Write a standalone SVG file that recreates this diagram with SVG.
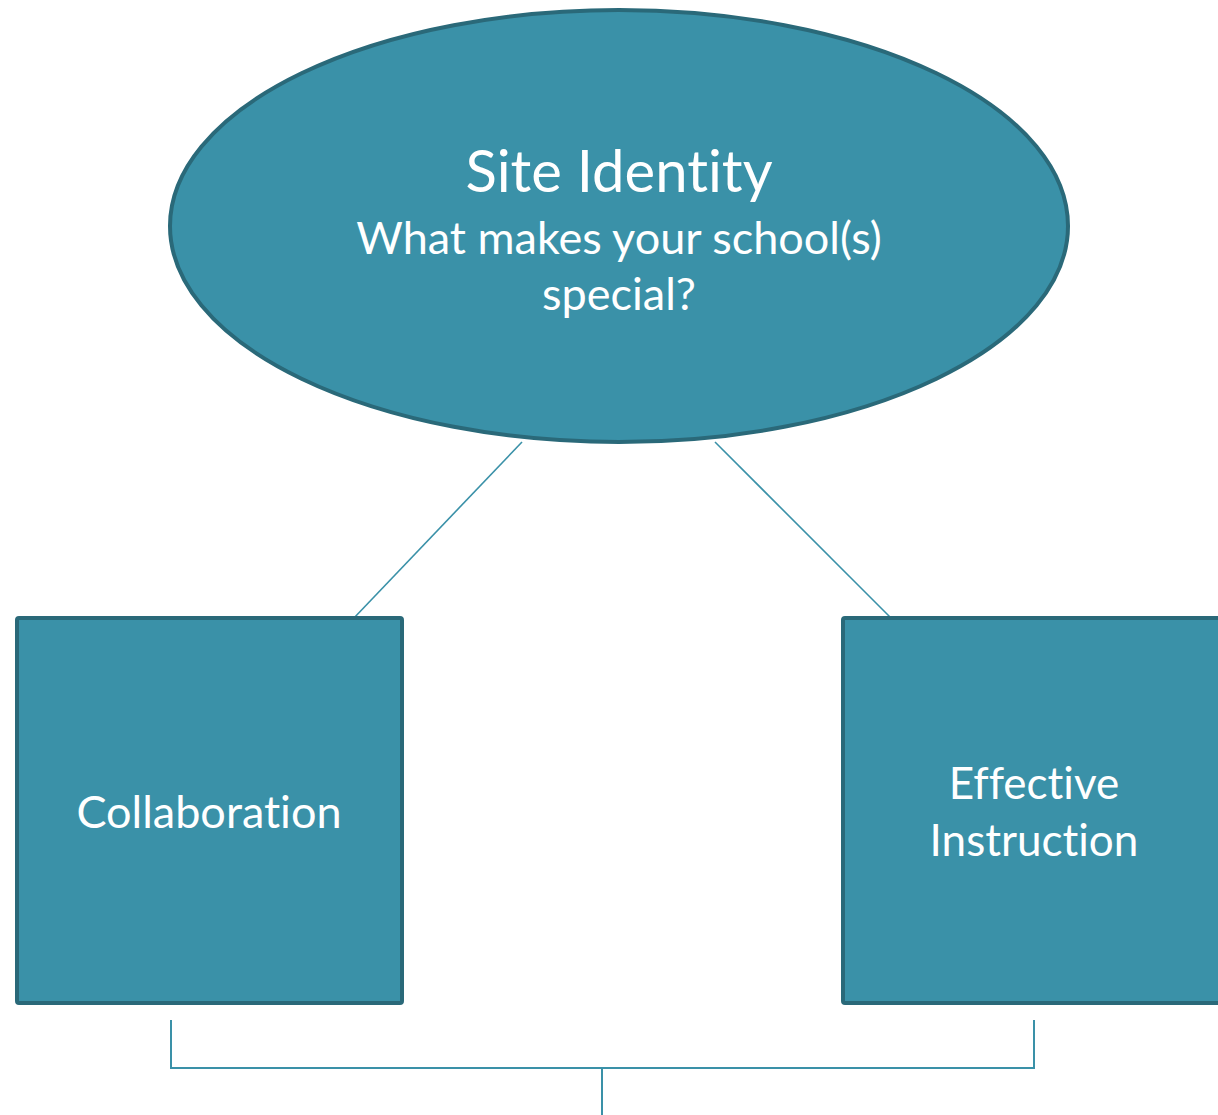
<svg xmlns="http://www.w3.org/2000/svg" width="1218" height="1115" viewBox="0 0 1218 1115">
<style>
.node{fill:#3a91a8;stroke:#2a6979;stroke-width:4}
.lbl{fill:#ffffff;font-family:Lato,"Open Sans","Liberation Sans",sans-serif;text-anchor:middle;font-variant-ligatures:none}
.conn{stroke:#3a91a8;stroke-width:1.6;fill:none}
.br{stroke:#3a91a8;stroke-width:2;fill:none}
</style>
<rect width="1218" height="1115" fill="#ffffff"/>
<g id="connectors">
<line class="conn" x1="522" y1="442" x2="353" y2="619"/>
<line class="conn" x1="715" y1="442" x2="890" y2="617"/>
<path class="br" d="M171,1020 V1068 H1034 V1020 M602,1068 V1115"/>
</g>
<g id="site-identity">
<ellipse class="node" cx="619" cy="226" rx="449" ry="216"/>
<text class="lbl" x="619" y="192" font-size="58">Site Identity</text>
<text class="lbl" x="619" y="254" font-size="45">What makes your school(s)</text>
<text class="lbl" x="619" y="310" font-size="45">special?</text>
</g>
<g id="collaboration">
<rect class="node" x="17" y="618" width="385" height="385" rx="2"/>
<text class="lbl" x="209" y="828" font-size="45">Collaboration</text>
</g>
<g id="effective-instruction">
<rect class="node" x="843" y="618" width="385" height="385" rx="2"/>
<text class="lbl" x="1034" y="799" font-size="44">Effective</text>
<text class="lbl" x="1034" y="856" font-size="44">Instruction</text>
</g>
</svg>
